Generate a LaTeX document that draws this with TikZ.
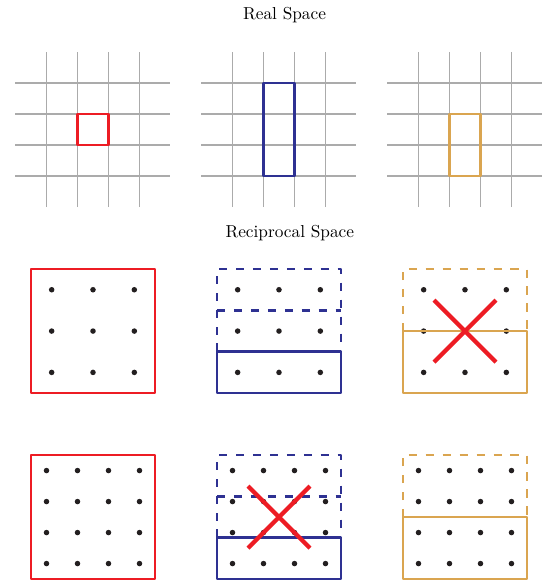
\documentclass[tikz,border=0pt]{standalone}
\usetikzlibrary{positioning}

\definecolor{cred}{RGB}{237,28,36}
\definecolor{cblue}{RGB}{46,49,146}
\definecolor{cgold}{RGB}{218,165,80}
\definecolor{cdot}{RGB}{35,31,32}

\begin{document}
\begin{tikzpicture}[x=0.63cm, y=0.63cm,
  gridline/.style={draw=black!33, line width=1pt},
  cell/.style={line width=1.2pt, line join=round},
  cellbox/.style={line width=1.5pt, line join=round},
  dashbox/.style={cellbox, dash pattern=on 4.8pt off 5pt},
  cross/.style={draw=cred, line width=2.4pt},
  dot/.style={fill=cdot},
  title/.style={font=\normalsize},
]
\useasboundingbox (-9,4.18) rectangle (8.55,-14.53);

% Titles
\node[title] (realtitle) at (0.18,3.69) {Real Space};
\node[title] (rectitle)  at (0.35,-3.34) {Reciprocal Space};

% Real space lattices
\foreach \cx in {-6,0,6} {
  \foreach \k in {-1.5,-0.5,0.5,1.5} {
    \draw[gridline] ({\cx+\k},-2.5) -- ({\cx+\k},2.5);
    \draw[gridline] ({\cx-2.5},\k) -- ({\cx+2.5},\k);
  }
}

% Unit cells
\draw[cell, cred]  (-6.5,-0.5) rectangle (-5.5,0.5);
\draw[cell, cblue] (-0.5,-1.5) rectangle (0.5,1.5);
\draw[cell, cgold] (5.5,-1.5) rectangle (6.5,0.5);

% Reciprocal space, first row (3 x 3 points)
\foreach \cx in {-6,0,6}
  \foreach \i in {-1,0,1}
    \foreach \j in {-1,0,1}
      \fill[dot] ({\cx+\i*4/3},{-6.5+\j*4/3}) circle (1.6pt);

\draw[cellbox, cred]  (-8,-4.5) rectangle (-4,-8.5);

\draw[dashbox, cblue] (-2,-7.167) -- (-2,-4.5) -- (2,-4.5) -- (2,-7.167);
\draw[dashbox, cblue] (-2,-5.833) -- (2,-5.833);
\draw[cellbox, cblue] (-2,-7.167) rectangle (2,-8.5);

\draw[dashbox, cgold] (4,-6.5) -- (4,-4.5) -- (8,-4.5) -- (8,-6.5);
\draw[cellbox, cgold] (4,-6.5) rectangle (8,-8.5);
\draw[cross] (5,-5.5) -- (7,-7.5) (5,-7.5) -- (7,-5.5);

% Reciprocal space, second row (4 x 4 points)
\foreach \cx in {-6,0,6}
  \foreach \i in {-1.5,-0.5,0.5,1.5}
    \foreach \j in {-1.5,-0.5,0.5,1.5}
      \fill[dot] ({\cx+\i},{-12.5+\j}) circle (1.6pt);

\draw[cellbox, cred]  (-8,-10.5) rectangle (-4,-14.5);

\draw[dashbox, cblue] (-2,-13.167) -- (-2,-10.5) -- (2,-10.5) -- (2,-13.167);
\draw[dashbox, cblue] (-2,-11.833) -- (2,-11.833);
\draw[cellbox, cblue] (-2,-13.167) rectangle (2,-14.5);
\draw[cross] (-1,-11.5) -- (1,-13.5) (-1,-13.5) -- (1,-11.5);

\draw[dashbox, cgold] (4,-12.5) -- (4,-10.5) -- (8,-10.5) -- (8,-12.5);
\draw[cellbox, cgold] (4,-12.5) rectangle (8,-14.5);

\end{tikzpicture}
\end{document}
